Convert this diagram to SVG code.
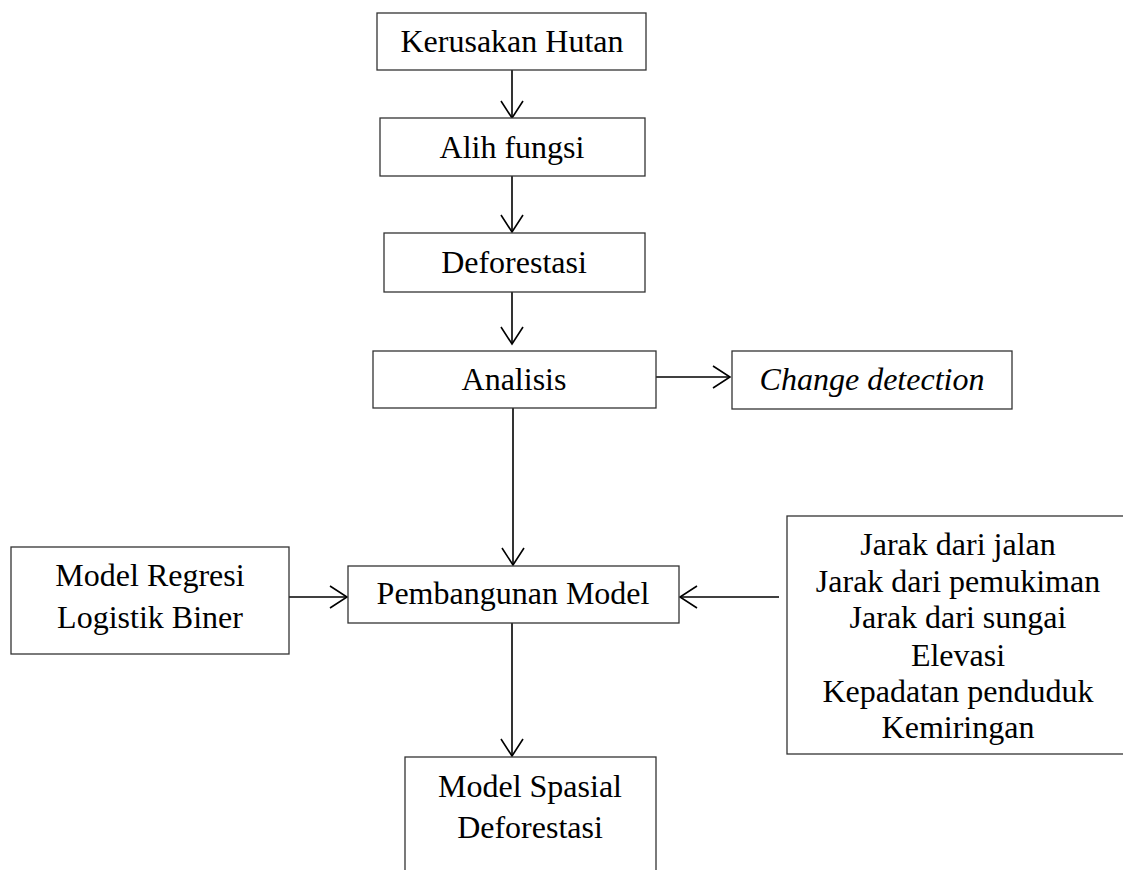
<svg xmlns="http://www.w3.org/2000/svg" width="1123" height="870" viewBox="0 0 1123 870">
<style>
.box{fill:#fff;stroke:#333;stroke-width:1.3}
.t{font-family:"Liberation Serif","Times New Roman",serif;font-size:32px;fill:#000;text-anchor:middle}
.i{font-style:italic}
.c{fill:none;stroke:#000;stroke-width:1.6;marker-end:url(#arr)}
</style>
<defs>
<marker id="arr" markerUnits="userSpaceOnUse" markerWidth="40" markerHeight="40" viewBox="-20 -20 40 40" refX="0" refY="0" orient="auto" overflow="visible">
<path d="M-17,-11 L0,0 L-17,11" fill="none" stroke="#000" stroke-width="1.6"/>
</marker>
</defs>
<rect width="1123" height="870" fill="#fff"/>
<g id="connectors">
<path class="c" d="M512,70 L512,118"/>
<path class="c" d="M512,176 L512,232"/>
<path class="c" d="M512,292 L512,344"/>
<path class="c" d="M656,377 L730,377"/>
<path class="c" d="M513,408 L513,565"/>
<path class="c" d="M289,597 L347,597"/>
<path class="c" d="M779,597 L680,597"/>
<path class="c" d="M512,623 L512,756"/>
</g>
<g id="kerusakan">
<rect class="box" x="377" y="13" width="269" height="57"/>
<text class="t" x="512" y="52">Kerusakan Hutan</text>
</g>
<g id="alih">
<rect class="box" x="380" y="118" width="265" height="58"/>
<text class="t" x="512" y="158">Alih fungsi</text>
</g>
<g id="deforestasi">
<rect class="box" x="384" y="233" width="261" height="59"/>
<text class="t" x="514" y="273">Deforestasi</text>
</g>
<g id="analisis">
<rect class="box" x="373" y="351" width="283" height="57"/>
<text class="t" x="514" y="390">Analisis</text>
</g>
<g id="change">
<rect class="box" x="732" y="351" width="280" height="58"/>
<text class="t i" x="872" y="390">Change detection</text>
</g>
<g id="regresi">
<rect class="box" x="11" y="547" width="278" height="107"/>
<text class="t" x="150" y="586">Model Regresi</text>
<text class="t" x="150" y="628">Logistik Biner</text>
</g>
<g id="pembangunan">
<rect class="box" x="348" y="566" width="331" height="57"/>
<text class="t" x="513" y="604">Pembangunan Model</text>
</g>
<g id="faktor">
<rect class="box" x="787" y="516" width="342" height="238"/>
<text class="t" x="958" y="555">Jarak dari jalan</text>
<text class="t" x="958" y="592">Jarak dari pemukiman</text>
<text class="t" x="958" y="628">Jarak dari sungai</text>
<text class="t" x="958" y="666">Elevasi</text>
<text class="t" x="958" y="702">Kepadatan penduduk</text>
<text class="t" x="958" y="738">Kemiringan</text>
</g>
<g id="spasial">
<rect class="box" x="405" y="757" width="251" height="130"/>
<text class="t" x="530" y="797">Model Spasial</text>
<text class="t" x="530" y="838">Deforestasi</text>
</g>
</svg>
